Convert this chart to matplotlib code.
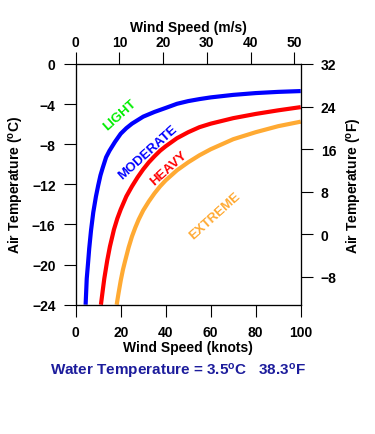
import matplotlib.pyplot as plt
import numpy as np

plt.rcParams['font.family'] = ['Liberation Sans', 'DejaVu Sans']
plt.rcParams['font.weight'] = 'bold'
plt.rcParams['axes.labelweight'] = 'bold'
plt.rcParams['mathtext.fontset'] = 'custom'
plt.rcParams['mathtext.rm'] = 'Liberation Sans:bold'
plt.rcParams['mathtext.bf'] = 'Liberation Sans:bold'
plt.rcParams['mathtext.default'] = 'bf'

# wind speed (knots) vs air temperature (C) for each icing class boundary
light_kt = [4.4, 4.9, 5.5, 6, 6.8, 7.8, 9, 10, 11, 12, 13.5, 15, 17.5, 20, 22.5, 25,
            27.5, 30, 35, 40, 45, 50, 55, 60, 70, 80, 90, 100]
light_c = [-24, -21.4, -19.8, -18.4, -16.6, -14.8, -13.2, -12.1, -11.1, -10.35, -9.3,
           -8.65, -7.75, -6.95, -6.4, -5.95, -5.6, -5.25, -4.78, -4.38, -3.97, -3.7,
           -3.5, -3.33, -3.08, -2.9, -2.78, -2.7]

heavy_kt = [11.2, 12, 12.7, 14, 15.2, 17, 18.5, 20, 22.5, 25, 27.5, 30, 32.5, 35, 37.5,
            40, 45, 50, 55, 60, 70, 80, 90, 100]
heavy_c = [-24, -22.6, -21.4, -19.6, -18.2, -16.5, -15.4, -14.5, -13.2, -12.2, -11.3,
           -10.5, -9.8, -9.2, -8.65, -8.2, -7.4, -6.8, -6.3, -5.95, -5.4, -4.98, -4.62, -4.3]

extreme_kt = [18.2, 19, 20, 21, 22, 23.5, 25, 26.5, 28, 30, 32.5, 35, 37.5, 40, 45, 50,
              55, 60, 65, 70, 80, 90, 100]
extreme_c = [-24, -22.9, -21.6, -20.5, -19.6, -18.3, -17.2, -16.3, -15.5, -14.6, -13.7,
             -12.9, -12.2, -11.6, -10.6, -9.8, -9.1, -8.5, -8.0, -7.5, -6.8, -6.2, -5.75]

knot_ticks = [0, 20, 40, 60, 80, 100]
ms_ticks = [0, 10, 20, 30, 40, 50]
c_ticks = [0, -4, -8, -12, -16, -20, -24]
f_ticks = [32, 24, 16, 8, 0, -8]

fig = plt.figure(figsize=(3.75, 4.35), dpi=100)
ax = fig.add_axes([0.2019, 0.2972, 0.6, 0.5534])

ax.plot(light_kt, light_c, color='#0000ff', linewidth=3.0, solid_capstyle='butt')
ax.plot(heavy_kt, heavy_c, color='#ff0000', linewidth=3.0, solid_capstyle='butt')
ax.plot(extreme_kt, extreme_c, color='#ffaa33', linewidth=3.0, solid_capstyle='butt')

ax.set_xlim(0, 100)
ax.set_ylim(-24, 0)
ax.set_xticks(knot_ticks)
ax.set_yticks(c_ticks)
ax.tick_params(direction='out', length=8.5, width=0.8, labelsize=10, pad=6)
ax.set_xlabel('Wind Speed (knots)', fontsize=10, labelpad=1)
ax.set_ylabel('Air Temperature ($^{o}$C)', fontsize=10, labelpad=4)

axr = ax.twinx()
axr.set_ylim(-13.3, 32)
axr.set_yticks(f_ticks)
axr.tick_params(direction='out', length=8.5, width=0.8, labelsize=10, pad=6)
axr.set_ylabel('Air Temperature ($^{o}$F)', fontsize=10, labelpad=6)

axt = ax.twiny()
axt.set_xlim(0, 51.44)
axt.set_xticks(ms_ticks)
axt.tick_params(direction='out', length=8.5, width=0.8, labelsize=10, pad=2)
axt.set_xlabel('Wind Speed (m/s)', fontsize=10, labelpad=3)

for a in (ax, axr, axt):
    for s in a.spines.values():
        s.set_linewidth(0.8)

ax.text(19.5, -5.0, 'LIGHT', color='#00ee00', fontsize=9.5, rotation=42,
        ha='center', va='center', fontweight='bold')
ax.text(32, -8.8, 'MODERATE', color='#0000ff', fontsize=9.5, rotation=42,
        ha='center', va='center', fontweight='bold')
ax.text(41.5, -10.3, 'HEAVY', color='#ff0000', fontsize=9.5, rotation=42,
        ha='center', va='center', fontweight='bold')
ax.text(62, -15.1, 'EXTREME', color='#ffaa33', fontsize=9.5, rotation=42,
        ha='center', va='center', fontweight='bold')

fig.text(0.475, 0.145, 'Water Temperature = 3.5$^{o}$C   38.3$^{o}$F',
         color='#1c1c9c', fontsize=11, ha='center', va='center', fontweight='bold')

plt.savefig('out.png', dpi=100)
